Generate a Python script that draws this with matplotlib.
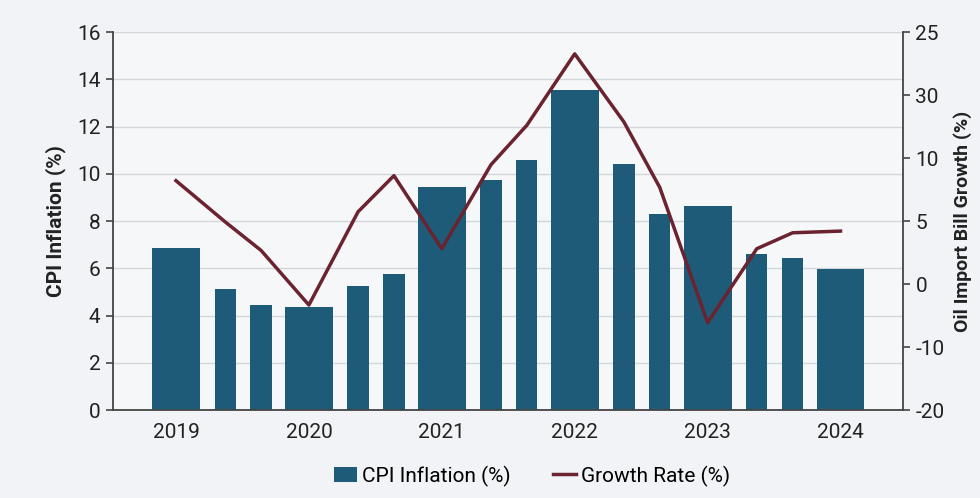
import matplotlib.pyplot as plt
from matplotlib.patches import Patch
from matplotlib.lines import Line2D

plt.rcParams['font.family'] = ['Roboto', 'DejaVu Sans']

# period positions (year + fraction) and values
period_x = [2019, 2019.37, 2019.64, 2020, 2020.37, 2020.64, 2021, 2021.37, 2021.64,
            2022, 2022.37, 2022.64, 2023, 2023.37, 2023.64, 2024]
is_year = [True, False, False, True, False, False, True, False, False,
           True, False, False, True, False, False, True]
cpi_inflation = [6.85, 5.12, 4.44, 4.37, 5.25, 5.76, 9.45, 9.74, 10.58,
                 13.55, 10.41, 8.28, 8.65, 6.60, 6.42, 5.98]
growth_rate = [7.3, 2.4, -1.0, -7.5, 3.6, 7.9, -0.8, 9.2, 13.9,
               22.4, 14.3, 6.5, -9.6, -0.8, 1.1, 1.3]
year_ticks = [2019, 2020, 2021, 2022, 2023, 2024]
right_tick_labels = ['-20', '-10', '0', '5', '10', '30', '25']

bar_color = '#1d5b78'
line_color = '#6b2330'
text_color = '#222222'

fig = plt.figure(figsize=(9.8, 4.98), dpi=100, facecolor='#f1f3f6')
ax = fig.add_axes([0.1153, 0.1767, 0.8061, 0.759])
ax.set_facecolor('#f6f7f9')

widths = [0.36 if y else 0.16 for y in is_year]
ax.bar(period_x, cpi_inflation, width=widths, color=bar_color, zorder=2)

ax.set_xlim(2018.526, 2024.47)
ax.set_ylim(0, 16)
ax.set_yticks(range(0, 17, 2))
ax.set_xticks(year_ticks)
ax.set_xticklabels([str(y) for y in year_ticks])
ax.grid(axis='y', color='#d3d6da', linewidth=1.0, zorder=0)
ax.set_axisbelow(True)
ax.tick_params(axis='y', labelsize=15, length=5, width=1.2, color='#444444', labelcolor=text_color, pad=4)
ax.tick_params(axis='x', labelsize=15, length=0, pad=9, labelcolor=text_color)
ax.set_ylabel('CPI Inflation (%)', fontsize=15, fontweight='bold', color=text_color, labelpad=8)
for s in ['top', 'right']:
    ax.spines[s].set_visible(False)
for s in ['left', 'bottom']:
    ax.spines[s].set_color('#444444')
    ax.spines[s].set_linewidth(1.3)

ax2 = ax.twinx()
ax2.plot(period_x, growth_rate, color=line_color, linewidth=2.5, zorder=3)
ax2.set_ylim(-20, 25)
ax2.set_yticks([-20, -12.5, -5, 2.5, 10, 17.5, 25])
ax2.set_yticklabels(right_tick_labels)
ax2.tick_params(axis='y', labelsize=15, length=5, width=1.2, color='#444444', labelcolor=text_color, pad=4)
ax2.set_ylabel('Oil Import Bill Growth (%)', fontsize=14, fontweight='bold', color=text_color,
               rotation=90, labelpad=6)
for s in ['top', 'left', 'bottom']:
    ax2.spines[s].set_visible(False)
ax2.spines['right'].set_color('#444444')
ax2.spines['right'].set_linewidth(1.3)

handles = [Patch(facecolor=bar_color, label='CPI Inflation (%)'),
           Line2D([0], [0], color=line_color, linewidth=2.5, label='Growth Rate (%)')]
fig.legend(handles=handles, loc='center', bbox_to_anchor=(0.543, 0.044), ncol=2,
           frameon=False, fontsize=15, handlelength=1.1, handleheight=0.77,
           handletextpad=0.25, columnspacing=2.0)

fig.savefig('out.png', dpi=100, facecolor=fig.get_facecolor())
